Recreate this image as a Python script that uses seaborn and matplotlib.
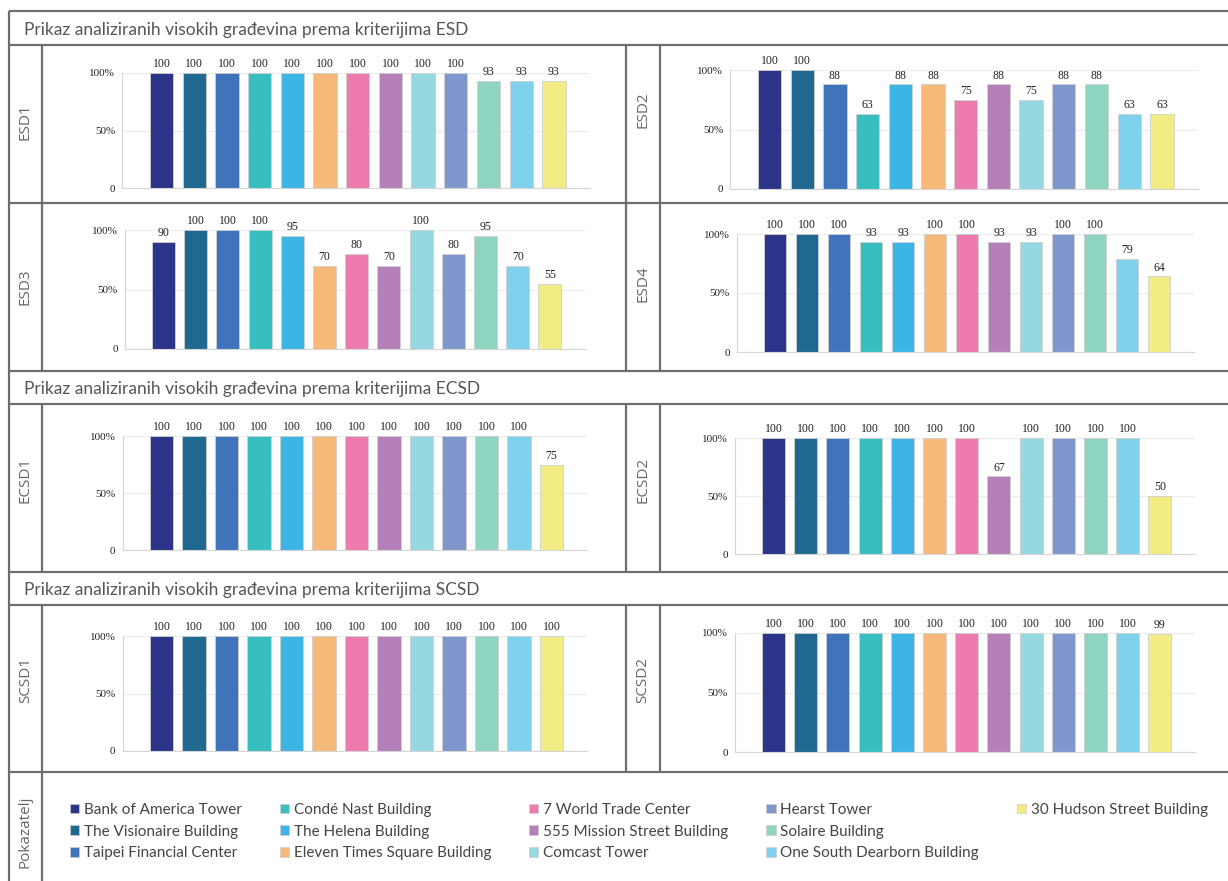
import pandas as pd
import matplotlib.pyplot as plt
import seaborn as sns
from matplotlib.patches import Patch

# Buildings and colours
buildings = ["Bank of America Tower", "The Visionaire Building", "Taipei Financial Center",
             "Condé Nast Building", "The Helena Building", "Eleven Times Square Building",
             "7 World Trade Center", "555 Mission Street Building", "Comcast Tower",
             "Hearst Tower", "Solaire Building", "One South Dearborn Building",
             "30 Hudson Street Building"]
colors = ["#2b3489", "#1f6890", "#3f74bd", "#37bfbf", "#3db4e6", "#f5b97a", "#ee7bae",
          "#b57fba", "#95d8e1", "#7f97cd", "#8fd3c1", "#7fd1ee", "#f3ec84"]

# Values (%) per criterion
esd1 = [100, 100, 100, 100, 100, 100, 100, 100, 100, 100, 93, 93, 93]
esd2 = [100, 100, 88, 63, 88, 88, 75, 88, 75, 88, 88, 63, 63]
esd3 = [90, 100, 100, 100, 95, 70, 80, 70, 100, 80, 95, 70, 55]
esd4 = [100, 100, 100, 93, 93, 100, 100, 93, 93, 100, 100, 79, 64]
ecsd1 = [100, 100, 100, 100, 100, 100, 100, 100, 100, 100, 100, 100, 75]
ecsd2 = [100, 100, 100, 100, 100, 100, 100, 67, 100, 100, 100, 100, 50]
scsd1 = [100, 100, 100, 100, 100, 100, 100, 100, 100, 100, 100, 100, 100]
scsd2 = [100, 100, 100, 100, 100, 100, 100, 100, 100, 100, 100, 100, 99]

headers = ["Prikaz analiziranih visokih građevina prema kriterijima ESD",
           "Prikaz analiziranih visokih građevina prema kriterijima ECSD",
           "Prikaz analiziranih visokih građevina prema kriterijima SCSD"]

sns.set_theme(style="white")
plt.rcParams['font.family'] = ['Lato', 'DejaVu Sans']

W, H = 1228, 881
fig = plt.figure(figsize=(W / 100, H / 100), dpi=100)


def px_box(left, top, width, height):
    return [left / W, 1 - (top + height) / H, width / W, height / H]


# background layer for the table frame (pixel coords)
bg = fig.add_axes([0, 0, 1, 1], zorder=0)
bg.set_xlim(0, W)
bg.set_ylim(H, 0)
bg.axis('off')

line_kw = dict(color='#6e6e6e', lw=1.6, solid_capstyle='butt')
for y in [11, 45, 203, 371, 404, 572, 605, 772]:
    bg.plot([9, W], [y, y], **line_kw)
bg.plot([9, 9], [11, H], **line_kw)
for x in [42, 626, 660]:
    bg.plot([x, x], [45, 371], **line_kw)
    bg.plot([x, x], [404, 572], **line_kw)
    bg.plot([x, x], [605, H if x == 42 else 772], **line_kw)

for txt, y in zip(headers, [30, 389, 590]):
    bg.text(24, y, txt, ha='left', va='center', fontsize=12.5, color='#555555')

# panels: name, values, first bar centre, bar spacing, y of 100%, y of 0, label x, label y
panels = [
    ("ESD1", esd1, 161.5, 32.7, 73, 188, 25.5, 122),
    ("ESD2", esd2, 769.5, 32.7, 70, 189, 643, 110),
    ("ESD3", esd3, 163.5, 32.2, 230, 349, 25.5, 287),
    ("ESD4", esd4, 775.0, 32.0, 234, 352, 643, 284),
    ("ECSD1", ecsd1, 161.5, 32.5, 436, 550, 25.5, 480),
    ("ECSD2", ecsd2, 773.5, 32.2, 438, 554, 643, 480),
    ("SCSD1", scsd1, 161.5, 32.5, 636, 751, 25.5, 680),
    ("SCSD2", scsd2, 773.5, 32.2, 633, 752, 643, 680),
]

for name, values, xc0, sp, y100, y0, lx, ly in panels:
    ax = fig.add_axes(px_box(xc0 - 1.2 * sp, y100, 14.3 * sp, y0 - y100), zorder=2)
    ax.patch.set_alpha(0)
    df = pd.DataFrame({'building': buildings, 'value': values})
    sns.barplot(data=df, x='building', y='value', hue='building', order=buildings,
                hue_order=buildings, palette=colors, saturation=1, width=0.71,
                legend=False, edgecolor='#cfcfcf', linewidth=0.6, ax=ax)
    ax.set_xlim(-1.2, 13.1)
    ax.set_ylim(0, 100)
    ax.set_xticks([])
    ax.set_yticks([0, 50, 100])
    ax.set_yticklabels(['0', '50%', '100%'])
    ax.set_xlabel('')
    ax.set_ylabel('')
    ax.tick_params(axis='y', length=0, pad=5, labelsize=8, labelcolor='#222222')
    for t in ax.get_yticklabels():
        t.set_family('Liberation Serif')
    ax.yaxis.grid(True, color='#ececec', lw=0.8)
    ax.set_axisbelow(True)
    for s in ['top', 'right']:
        ax.spines[s].set_visible(False)
    for s in ['left', 'bottom']:
        ax.spines[s].set_color('#d5d5d5')
        ax.spines[s].set_linewidth(0.8)
    for c in ax.containers:
        ax.bar_label(c, fmt='%g', padding=2, fontsize=8.5, color='#222222',
                     family='Liberation Serif')
    bg.text(lx, ly, name, rotation=90, ha='center', va='center', fontsize=11,
            color='#666666', family='Open Sans')

bg.text(25.5, 832, "Pokazatelj", rotation=90, ha='center', va='center', fontsize=11,
        color='#666666', family='Open Sans')

# legend: 3 rows, filled column by column; two blank slots keep the last column short
handles = [Patch(facecolor=c, edgecolor='#cccccc', lw=0.5) for c in colors]
labels = list(buildings)
handles += [Patch(facecolor='none', edgecolor='none')] * 2
labels += [' ', ' ']
fig.legend(handles, labels, ncol=5, loc='upper left',
           bbox_to_anchor=(70 / W, 1 - 803 / H), frameon=False, fontsize=11,
           labelcolor='#444444', handlelength=0.6, handleheight=0.6,
           handletextpad=0.3, columnspacing=2.5, labelspacing=0.5,
           borderpad=0, borderaxespad=0)

plt.savefig("out.png", dpi=100)
